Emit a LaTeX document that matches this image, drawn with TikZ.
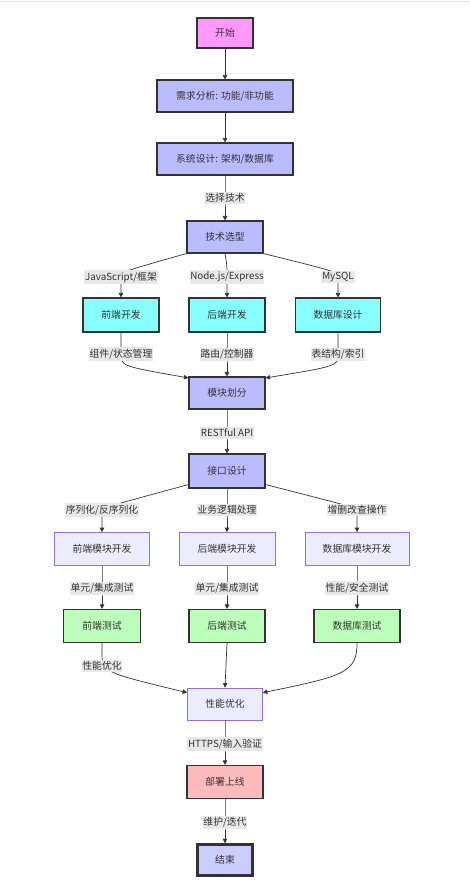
\documentclass[tikz,border=0pt]{standalone}
\usepackage{fontspec}
\setmainfont{Noto Sans CJK SC}
\usetikzlibrary{arrows.meta}
\definecolor{txt}{HTML}{333333}
\definecolor{cstart}{HTML}{FF99FF}
\definecolor{cblue}{HTML}{BBBBFF}
\definecolor{ccyan}{HTML}{88FFFF}
\definecolor{cgreen}{HTML}{BBFFBB}
\definecolor{cpink}{HTML}{FFBBBB}
\definecolor{cend}{HTML}{CCCCFF}
\definecolor{clight}{HTML}{ECECFF}
\definecolor{cpurp}{HTML}{9370DB}
\definecolor{clbl}{HTML}{E8E8E8}
\begin{document}
\begin{tikzpicture}[x=1pt,y=-1pt,
  font=\fontsize{9.8}{11}\selectfont,
  nbox/.style={draw=txt, line width=1.1pt, text=txt, inner sep=0pt, align=center, minimum height=32pt},
  termbox/.style={nbox, line width=2.4pt},
  lightbox/.style={draw=cpurp, fill=clight, line width=0.7pt, text=txt, inner sep=0pt, align=center, minimum height=33pt},
  lbl/.style={fill=clbl, text=txt, inner xsep=0.8pt, inner ysep=1.5pt},
  arr/.style={draw=txt, line width=0.7pt, -{Triangle[length=4.5pt,width=4.5pt]}}
]
\useasboundingbox (0,0) rectangle (469,887);
\draw[gray!25, line width=1pt] (0,1.5) -- (469,1.5);

% nodes
\node[termbox, fill=cstart, minimum width=56pt, minimum height=30pt] (start) at (225,33) {开始};
\node[nbox, fill=cblue, minimum width=136pt] (req) at (225,96) {需求分析: 功能/非功能};
\node[nbox, fill=cblue, minimum width=136pt] (sys) at (225,159) {系统设计: 架构/数据库};
\node[nbox, fill=cblue, minimum width=76pt] (ts) at (225,237) {技术选型};
\node[nbox, fill=ccyan, minimum width=76pt, minimum height=34pt] (fe) at (121,315) {前端开发};
\node[nbox, fill=ccyan, minimum width=76pt, minimum height=34pt] (be) at (227,315) {后端开发};
\node[nbox, fill=ccyan, minimum width=85pt, minimum height=34pt] (db) at (338,315) {数据库设计};
\node[nbox, fill=cblue, minimum width=76pt] (mh) at (227,393) {模块划分};
\node[nbox, fill=cblue, minimum width=76pt, minimum height=34pt] (api) at (227,471) {接口设计};
\node[lightbox, minimum width=95pt] (fem) at (102,549) {前端模块开发};
\node[lightbox, minimum width=96pt] (bem) at (227,549) {后端模块开发};
\node[lightbox, minimum width=104pt] (dbm) at (357,549) {数据库模块开发};
\node[nbox, fill=cgreen, minimum width=77pt, minimum height=33pt] (fet) at (102,626) {前端测试};
\node[nbox, fill=cgreen, minimum width=76pt, minimum height=33pt] (bet) at (227,626) {后端测试};
\node[nbox, fill=cgreen, minimum width=86pt, minimum height=33pt] (dbt) at (357,626) {数据库测试};
\node[lightbox, minimum width=75pt, minimum height=32pt] (perf) at (225,704) {性能优化};
\node[nbox, fill=cpink, minimum width=76pt, minimum height=33pt] (dep) at (225,782) {部署上线};
\node[termbox, fill=cend, minimum width=55pt, minimum height=31pt] (end) at (225,860) {结束};

% edges
\draw[arr] (start) -- (req);
\draw[arr] (req) -- (sys);
\draw[arr] (sys.south) -- (225,198) node[lbl] (l1) {选择技术} -- (ts.north);

\draw[arr] (ts.south west) .. controls (121,272) .. (121,277) node[lbl] (l2) {JavaScript/框架} -- (fe.north);
\draw[arr] (ts.south) .. controls (227,265) .. (227,277) node[lbl] (l3) {Node.js/Express} -- (be.north);
\draw[arr] (ts.south east) .. controls (338,272) .. (338,277) node[lbl] (l4) {MySQL} -- (db.north);

\draw[arr] (fe.south) -- (121,354) node[lbl] (l5) {组件/状态管理} .. controls (121,366) .. ([yshift=-1.5pt]mh.north west);
\draw[arr] (be.south) -- (227,354) node[lbl] (l6) {路由/控制器} -- (mh.north);
\draw[arr] (db.south) -- (338,354) node[lbl] (l7) {表结构/索引} .. controls (338,366) .. ([yshift=-1.5pt]mh.north east);

\draw[arr] (mh.south) -- (227,433) node[lbl] (l8) {RESTful API} -- (api.north);

\draw[arr] ([yshift=4pt]api.south west) .. controls (102,508) .. (102,510) node[lbl] (l9) {序列化/反序列化} -- (fem.north);
\draw[arr] (api.south) -- (227,510) node[lbl] (l10) {业务逻辑处理} -- (bem.north);
\draw[arr] ([yshift=4pt]api.south east) .. controls (357,508) .. (357,510) node[lbl] (l11) {增删改查操作} -- (dbm.north);

\draw[arr] (fem.south) -- (102,588) node[lbl] (l12) {单元/集成测试} -- (fet.north);
\draw[arr] (bem.south) -- (227,588) node[lbl] (l13) {单元/集成测试} -- (bet.north);
\draw[arr] (dbm.south) -- (357,588) node[lbl] (l14) {性能/安全测试} -- (dbt.north);

\draw[arr] (fet.south) -- (102,652) .. controls (102,672) .. ([yshift=-5pt]perf.north west);
\draw[arr] (bet.south) -- (perf.north);
\draw[arr] (dbt.south) .. controls (357,672) and (345,676) .. ([yshift=-5pt]perf.north east);
\node[lbl] (l15) at (102,666) {性能优化};

\draw[arr] (perf.south) -- (225,744) node[lbl] (l16) {HTTPS/输入验证} -- (dep.north);
\draw[arr] (dep.south) -- (225,822) node[lbl] (l17) {维护/迭代} -- (end.north);
\end{tikzpicture}
\end{document}
